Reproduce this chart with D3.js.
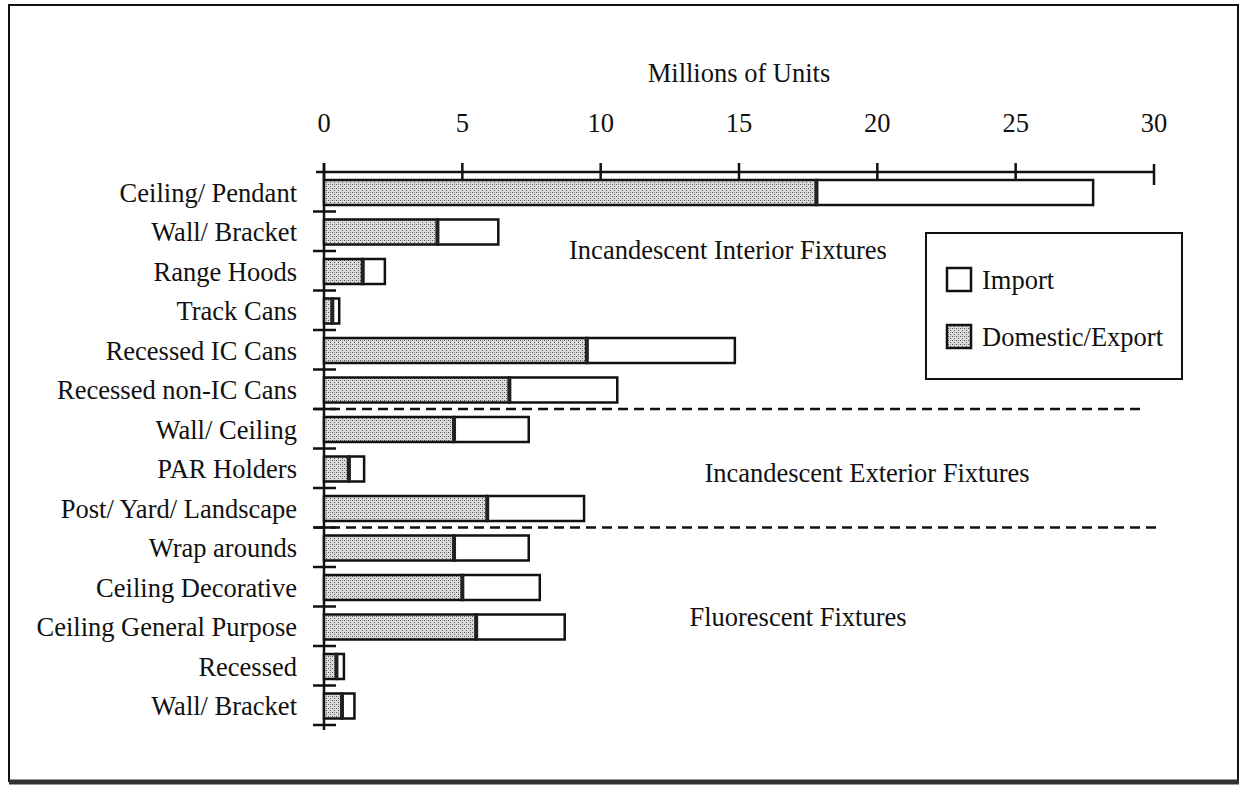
<!DOCTYPE html>
<html>
<head>
<meta charset="utf-8">
<script src="https://cdn.jsdelivr.net/npm/d3@7"></script>
<style>
    body { margin: 0; background: #fff; }
    svg text { font-family: "Liberation Serif", "Times New Roman", serif; fill: #111; }
</style>
</head>
<body>
<div id="chart"></div>
<script>
// categories from top to bottom
const categories = [
    "Ceiling/ Pendant", "Wall/ Bracket", "Range Hoods", "Track Cans",
    "Recessed IC Cans", "Recessed non-IC Cans",
    "Wall/ Ceiling", "PAR Holders", "Post/ Yard/ Landscape",
    "Wrap arounds", "Ceiling Decorative", "Ceiling General Purpose",
    "Recessed", "Wall/ Bracket "
];
// millions of units
const domestic = [17.8, 4.1, 1.4, 0.3, 9.5, 6.7, 4.7, 0.9, 5.9, 4.7, 5.0, 5.5, 0.45, 0.65];
const imports = [10.0, 2.2, 0.8, 0.25, 5.35, 3.9, 2.7, 0.55, 3.5, 2.7, 2.8, 3.2, 0.27, 0.45];
const xTicks = [0, 5, 10, 15, 20, 25, 30];
// group labels and the rows after which a dashed divider is drawn
const groups = ["Incandescent Interior Fixtures", "Incandescent Exterior Fixtures", "Fluorescent Fixtures"];
const dividers = [6, 9];

const W = 1241, H = 787;
const fontSize = 26.5;

var svg = d3.select("#chart").append("svg")
    .attr("width", W)
    .attr("height", H);

// stipple pattern for domestic/export
var defs = svg.append("defs");
var pat = defs.append("pattern")
    .attr("id", "stipple")
    .attr("width", 4).attr("height", 4)
    .attr("patternUnits", "userSpaceOnUse");
pat.append("rect").attr("width", 4).attr("height", 4).attr("fill", "#dcdcdc");
pat.append("rect").attr("x", 0).attr("y", 0).attr("width", 1).attr("height", 1).attr("fill", "#555");
pat.append("rect").attr("x", 2).attr("y", 2).attr("width", 1).attr("height", 1).attr("fill", "#555");
pat.append("rect").attr("x", 2).attr("y", 0).attr("width", 1).attr("height", 1).attr("fill", "#999");

// frame
svg.append("rect")
    .attr("x", 9).attr("y", 5)
    .attr("width", 1229).attr("height", 776)
    .attr("fill", "none")
    .attr("stroke", "#111")
    .attr("stroke-width", 2);
svg.append("line")
    .attr("x1", 9).attr("x2", 1239)
    .attr("y1", 782).attr("y2", 782)
    .attr("stroke", "#333")
    .attr("stroke-width", 5);

var x = d3.scaleLinear()
    .domain([0, 30])
    .range([324, 1154]);

var y = d3.scaleBand()
    .domain(categories)
    .range([172, 725]);

const barOffset = 8, barHeight = 25;

// title
svg.append("text")
    .attr("x", 739).attr("y", 82)
    .attr("text-anchor", "middle")
    .style("font-size", fontSize + "px")
    .text("Millions of Units");

// top axis
svg.append("line")
    .attr("x1", 316).attr("x2", x(30))
    .attr("y1", 172).attr("y2", 172)
    .attr("stroke", "#111").attr("stroke-width", 2.5);

svg.selectAll(".xtick")
    .data(xTicks)
    .enter()
    .append("line")
    .attr("class", "xtick")
    .attr("x1", d => x(d)).attr("x2", d => x(d))
    .attr("y1", d => d == 30 ? 164 : 163)
    .attr("y2", d => d == 30 ? 185 : 180)
    .attr("stroke", "#111").attr("stroke-width", 2.5);

svg.selectAll(".xlabel")
    .data(xTicks)
    .enter()
    .append("text")
    .attr("class", "xlabel")
    .attr("x", d => x(d))
    .attr("y", 132)
    .attr("text-anchor", "middle")
    .style("font-size", fontSize + "px")
    .text(d => d);

// left axis
svg.append("line")
    .attr("x1", 324).attr("x2", 324)
    .attr("y1", 163).attr("y2", 730)
    .attr("stroke", "#111").attr("stroke-width", 2.5);

svg.selectAll(".ytick")
    .data(categories)
    .enter()
    .append("line")
    .attr("class", "ytick")
    .attr("x1", 313).attr("x2", 336)
    .attr("y1", d => y(d) + y.bandwidth())
    .attr("y2", d => y(d) + y.bandwidth())
    .attr("stroke", "#111").attr("stroke-width", 2.5);

svg.selectAll(".ylabel")
    .data(categories)
    .enter()
    .append("text")
    .attr("class", "ylabel")
    .attr("x", 297)
    .attr("y", d => y(d) + barOffset + barHeight / 2)
    .attr("dy", "0.35em")
    .attr("text-anchor", "end")
    .style("font-size", fontSize + "px")
    .text(d => d.trim());

// bars
var rows = svg.selectAll(".row")
    .data(categories)
    .enter()
    .append("g")
    .attr("class", "row");

rows.append("rect")
    .attr("x", x(0))
    .attr("y", d => y(d) + barOffset)
    .attr("width", (d, i) => x(domestic[i]) - x(0))
    .attr("height", barHeight)
    .attr("fill", "url(#stipple)")
    .attr("stroke", "#111")
    .attr("stroke-width", 2.5);

rows.append("rect")
    .attr("x", (d, i) => x(domestic[i]))
    .attr("y", d => y(d) + barOffset)
    .attr("width", (d, i) => x(domestic[i] + imports[i]) - x(domestic[i]))
    .attr("height", barHeight)
    .attr("fill", "#fff")
    .attr("stroke", "#111")
    .attr("stroke-width", 2.5);

// dark edge where domestic ends
rows.append("line")
    .attr("x1", (d, i) => x(domestic[i]))
    .attr("x2", (d, i) => x(domestic[i]))
    .attr("y1", d => y(d) + barOffset)
    .attr("y2", d => y(d) + barOffset + barHeight)
    .attr("stroke", "#222")
    .attr("stroke-width", 4);

// dashed dividers
svg.selectAll(".divider")
    .data(dividers)
    .enter()
    .append("line")
    .attr("class", "divider")
    .attr("x1", 314)
    .attr("x2", (d, i) => i == 0 ? 1145 : 1157)
    .attr("y1", d => y(categories[d]))
    .attr("y2", d => y(categories[d]))
    .attr("stroke", "#111")
    .attr("stroke-width", 2.5)
    .attr("stroke-dasharray", "10,6");

// group labels
const groupPos = [[728, 250], [867, 473], [798, 617]];
svg.selectAll(".group")
    .data(groups)
    .enter()
    .append("text")
    .attr("class", "group")
    .attr("x", (d, i) => groupPos[i][0])
    .attr("y", (d, i) => groupPos[i][1])
    .attr("dy", "0.35em")
    .attr("text-anchor", "middle")
    .style("font-size", fontSize + "px")
    .text(d => d);

// legend
var legend = svg.append("g");
legend.append("rect")
    .attr("x", 926).attr("y", 233)
    .attr("width", 256).attr("height", 146)
    .attr("fill", "#fff")
    .attr("stroke", "#111")
    .attr("stroke-width", 2);

const legendItems = [
    { label: "Import", fill: "#fff", y: 268 },
    { label: "Domestic/Export", fill: "url(#stipple)", y: 325 }
];
legend.selectAll(".sw")
    .data(legendItems)
    .enter()
    .append("rect")
    .attr("class", "sw")
    .attr("x", 947).attr("y", d => d.y)
    .attr("width", 24).attr("height", 23)
    .attr("fill", d => d.fill)
    .attr("stroke", "#111")
    .attr("stroke-width", 2.5);
legend.selectAll(".lt")
    .data(legendItems)
    .enter()
    .append("text")
    .attr("class", "lt")
    .attr("x", 982).attr("y", d => d.y + 12)
    .attr("dy", "0.35em")
    .style("font-size", fontSize + "px")
    .text(d => d.label);
</script>
</body>
</html>
